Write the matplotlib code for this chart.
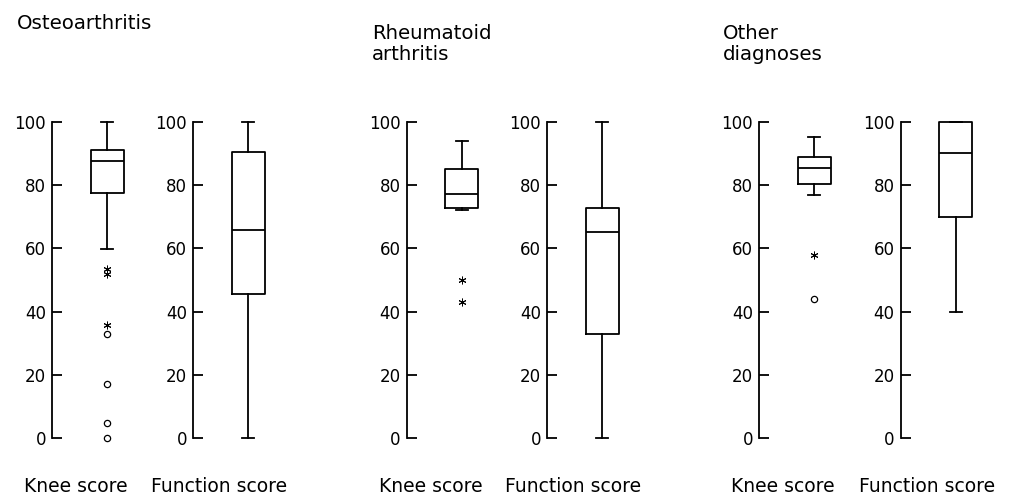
import numpy as np
import matplotlib
matplotlib.use("Agg")
import matplotlib.pyplot as plt

# ── Data ──────────────────────────────────────────────────────────────────────
groups = ["Osteoarthritis", "Rheumatoid\narthritis", "Other\ndiagnoses"]
scores = ["Knee score", "Function score"]

# order: OA knee, OA function, RA knee, RA function, other knee, other function
whislo = [59.7, 0.0, 72.0, 0.0, 77.0, 40.0]
q1     = [77.4, 45.6, 72.7, 32.8, 80.2, 70.0]
med    = [87.7, 65.8, 77.3, 65.3, 85.5, 90.0]
q3     = [91.1, 90.5, 85.1, 72.7, 88.8, 100.0]
whishi = [100.0, 100.0, 93.8, 100.0, 95.2, 100.0]
extremes = [[51.8, 53.6, 35.8], [], [50.0, 43.1], [], [58.0], []]   # asterisks
outliers = [[33.0, 17.0, 4.9, 0.0], [], [], [], [44.1], []]        # circles

yticks = [0, 20, 40, 60, 80, 100]

# ── Layout ────────────────────────────────────────────────────────────────────
W, H = 1015, 497
spine_px = [52.3, 193.3, 406.7, 547.3, 759.3, 900.7]
ax_w = 110
y0_px, y100_px = 438.3, 121.7

fig = plt.figure(figsize=(W / 100, H / 100), dpi=100)
lw = 1.3

for i in range(6):
    ax = fig.add_axes([spine_px[i] / W, (H - y0_px) / H,
                       ax_w / W, (y0_px - y100_px) / H])
    stats = [dict(med=med[i], q1=q1[i], q3=q3[i],
                  whislo=whislo[i], whishi=whishi[i], fliers=[])]
    ax.bxp(stats, positions=[1], widths=0.6, capwidths=0.22,
           showfliers=False, patch_artist=False,
           boxprops=dict(color="black", lw=lw),
           medianprops=dict(color="black", lw=lw),
           whiskerprops=dict(color="black", lw=lw),
           capprops=dict(color="black", lw=lw))
    if extremes[i]:
        ax.plot([1] * len(extremes[i]), extremes[i], ls="none",
                marker=(6, 2, 0), ms=5.5, mew=0.7, color="black", clip_on=False)
    if outliers[i]:
        ax.plot([1] * len(outliers[i]), outliers[i], ls="none", marker="o",
                ms=4.5, mfc="white", mec="black", mew=0.9, clip_on=False)
    for art in ax.lines:
        art.set_clip_on(False)

    ax.set_xlim(0, 2)
    ax.set_ylim(0, 100)
    ax.set_yticks(yticks)
    ax.set_xticks([])
    for s in ["top", "right", "bottom"]:
        ax.spines[s].set_visible(False)
    ax.spines["left"].set_linewidth(lw)
    ax.tick_params(axis="y", direction="in", length=7.5, width=lw,
                   pad=4.5, labelsize=12)
    ax.patch.set_visible(False)

    off = 24 if i % 2 == 0 else 26
    fig.text((spine_px[i] + off) / W, (H - 487) / H, scores[i % 2],
             ha="center", va="center", fontsize=13.5)

title_x = [17.3, 371.7, 723.0]
title_y = [29.3, 39.3, 39.3]   # baseline of first line, px from top
for g, name in enumerate(groups):
    lines = name.split("\n")
    fig.text(title_x[g] / W, (H - title_y[g]) / H, lines[0],
             ha="left", va="baseline", fontsize=14.2)
    if len(lines) > 1:
        fig.text(title_x[g] / W, (H - title_y[g] - 21) / H, lines[1],
                 ha="left", va="baseline", fontsize=14.2)

fig.savefig("out.png", dpi=100)
